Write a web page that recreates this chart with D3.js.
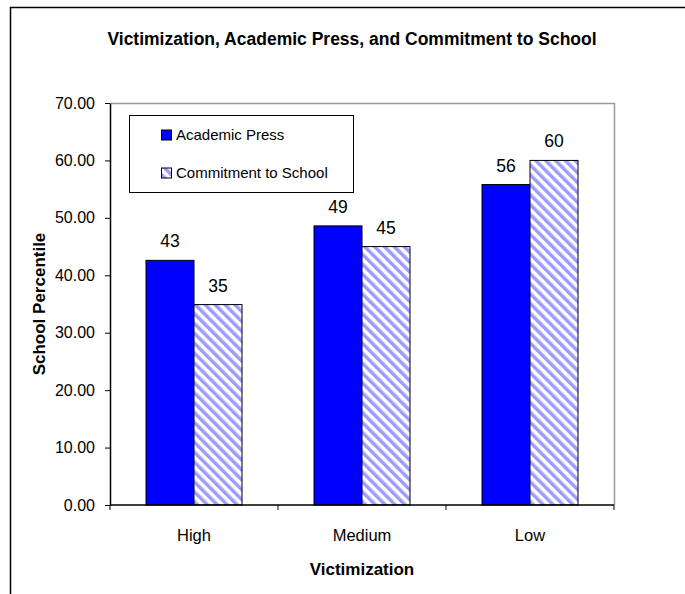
<!DOCTYPE html>
<html>
<head>
<meta charset="utf-8">
<script src="https://cdn.jsdelivr.net/npm/d3@7"></script>
<style>
  html, body { margin: 0; padding: 0; background: #fff; }
  svg { display: block; font-family: "Liberation Sans", Arial, sans-serif; }
</style>
</head>
<body>
<svg id="chart" width="685" height="594"></svg>
<script>
// Victimization level groups
const categories = ["High", "Medium", "Low"];
// Series and their values (school percentile)
const seriesNames = ["Academic Press", "Commitment to School"];
const academicPress = [42.6, 48.6, 55.8];
const commitment = [34.9, 45.0, 60.0];
// Y axis tick labels
const yTicks = [0, 10, 20, 30, 40, 50, 60, 70];

const svg = d3.select("#chart");
const margin = { left: 110, right: 71, top: 103, bottom: 89 };
const W = 685, H = 594;
const plotW = W - margin.left - margin.right;
const plotH = H - margin.top - margin.bottom;

// Hatch pattern for the second series
const defs = svg.append("defs");
const pat = defs.append("pattern")
  .attr("id", "hatch")
  .attr("patternUnits", "userSpaceOnUse")
  .attr("width", 7).attr("height", 7)
  .attr("patternTransform", "rotate(-45)");
pat.append("rect").attr("width", 7).attr("height", 7).attr("fill", "#fff");
pat.append("rect").attr("width", 3.5).attr("height", 7).attr("fill", "#9c9cff");

// Outer chart frame
svg.append("rect")
  .attr("x", 10.5).attr("y", 7.5)
  .attr("width", 700).attr("height", 620)
  .attr("fill", "none").attr("stroke", "#000").attr("stroke-width", 1.5);

// Title
svg.append("text")
  .attr("x", 352).attr("y", 45)
  .attr("text-anchor", "middle")
  .attr("font-size", 17.5).attr("font-weight", "bold")
  .text("Victimization, Academic Press, and Commitment to School");

const g = svg.append("g").attr("transform", `translate(${margin.left},${margin.top})`);

const x0 = d3.scaleBand().domain(categories).range([0, plotW]).paddingInner(0).paddingOuter(0);
const x1 = d3.scaleBand().domain(seriesNames).range([0, x0.bandwidth()]).paddingInner(0).paddingOuter(0.75);
const y = d3.scaleLinear().domain([0, 70]).range([plotH, 0]);

// Plot area border (top/right in gray)
g.append("path")
  .attr("d", `M0.5,0.5H${plotW + 0.5}V${plotH}`)
  .attr("fill", "none").attr("stroke", "#999").attr("stroke-width", 1.5);

const fills = ["#0000ff", "url(#hatch)"];
const rows = categories.map((c, i) => ({ c, vals: [academicPress[i], commitment[i]] }));

const groups = g.selectAll(".grp").data(rows).join("g")
  .attr("transform", d => `translate(${x0(d.c)},0)`);

groups.selectAll("rect").data(d => d.vals.map((v, j) => ({ v, s: seriesNames[j], j })))
  .join("rect")
  .attr("x", d => x1(d.s))
  .attr("y", d => y(d.v))
  .attr("width", x1.bandwidth())
  .attr("height", d => plotH - y(d.v))
  .attr("fill", d => fills[d.j])
  .attr("stroke", "#000").attr("stroke-width", 1);

groups.selectAll("text.val").data(d => d.vals.map((v, j) => ({ v, s: seriesNames[j] })))
  .join("text").attr("class", "val")
  .attr("x", d => x1(d.s) + x1.bandwidth() / 2)
  .attr("y", d => y(d.v) - 13)
  .attr("text-anchor", "middle")
  .attr("font-size", 17.5)
  .text(d => d3.format(".0f")(d.v));

// Y axis
const yAxis = g.append("g")
  .call(d3.axisLeft(y).tickValues(yTicks).tickFormat(d3.format(".2f")).tickSize(5).tickSizeOuter(0));
yAxis.select(".domain").attr("stroke", "#000").attr("stroke-width", 1.5);
yAxis.selectAll(".tick line").attr("stroke", "#000");
yAxis.selectAll("text").attr("font-size", 16).attr("fill", "#000").attr("x", -15)
  .attr("font-family", "Liberation Sans, Arial, sans-serif");

// X axis: ticks at category boundaries
const xAxisG = g.append("g").attr("transform", `translate(0,${plotH})`);
xAxisG.append("line").attr("x1", 0).attr("x2", plotW).attr("stroke", "#000").attr("stroke-width", 1.5);
const bounds = categories.map(c => x0(c)).concat([plotW]);
xAxisG.selectAll("line.tk").data(bounds).join("line").attr("class", "tk")
  .attr("x1", d => d).attr("x2", d => d).attr("y1", 0).attr("y2", 5)
  .attr("stroke", "#000");
xAxisG.selectAll("text.cat").data(categories).join("text").attr("class", "cat")
  .attr("x", d => x0(d) + x0.bandwidth() / 2)
  .attr("y", 36)
  .attr("text-anchor", "middle").attr("font-size", 16.5)
  .text(d => d);

// Axis titles
svg.append("text")
  .attr("x", margin.left + plotW / 2).attr("y", 575)
  .attr("text-anchor", "middle").attr("font-size", 17).attr("font-weight", "bold")
  .text("Victimization");
svg.append("text")
  .attr("transform", `translate(45,${margin.top + plotH / 2}) rotate(-90)`)
  .attr("text-anchor", "middle").attr("font-size", 17).attr("font-weight", "bold")
  .text("School Percentile");

// Legend
const leg = svg.append("g").attr("transform", "translate(129.5,115.5)");
leg.append("rect").attr("width", 224).attr("height", 77)
  .attr("fill", "#fff").attr("stroke", "#000").attr("stroke-width", 1);
seriesNames.forEach((s, i) => {
  const yy = 19.5 + i * 38;
  leg.append("rect").attr("x", 32).attr("y", yy - 5).attr("width", 10).attr("height", 10)
    .attr("fill", fills[i]).attr("stroke", "#000").attr("stroke-width", 1);
  leg.append("text").attr("x", 46.5).attr("y", yy + 5).attr("font-size", 15).text(s);
});
</script>
</body>
</html>
